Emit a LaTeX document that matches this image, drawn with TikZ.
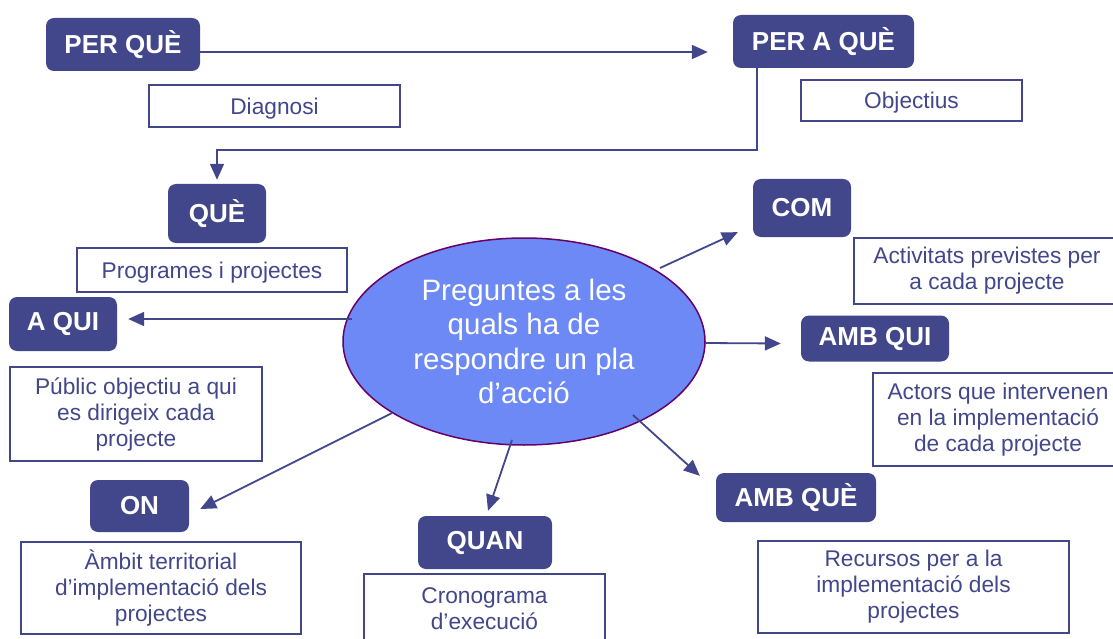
\documentclass[tikz,border=0pt]{standalone}
\usepackage{fontspec}
\setmainfont{Liberation Sans}
\usetikzlibrary{arrows.meta,shapes.geometric,calc}
\definecolor{qblue}{RGB}{65,71,138}
\definecolor{askfill}{RGB}{108,137,245}
\definecolor{askline}{RGB}{102,0,102}
\tikzstyle{question} = [rounded corners=8pt,fill=qblue,text=white,inner sep=0pt,font=\fontsize{26}{30}\selectfont\bfseries]
\tikzstyle{answer} = [draw=qblue,line width=1.6pt,text=qblue,inner sep=0pt,align=center,font=\fontsize{22.7}{26}\selectfont]
\tikzstyle{edge} = [draw=qblue,line width=1.8pt,-{Triangle[length=16pt,width=14pt]}]

\begin{document}
\begin{tikzpicture}[x=1pt,y=-1pt]
				\useasboundingbox (0,0) rectangle (1113,639);
				\node[ellipse,draw=askline,line width=1.5pt,fill=askfill,text=white,align=center,minimum width=362pt,minimum height=207pt,inner sep=0pt,font=\fontsize{29.5}{34.5}\selectfont] (ask) at (524, 341.5) {Preguntes a les\\quals ha de\\respondre un pla\\d’acció};

				\node[question,minimum width=154pt,minimum height=53pt] (perque) at (123, 44.5) {PER QUÈ};
				\node[question,minimum width=181pt,minimum height=53pt] (peraque) at (823.5, 41.5) {PER A QUÈ};
				\node[question,minimum width=98pt,minimum height=59pt] (que) at (217, 213.5) {QUÈ};
				\node[question,minimum width=98pt,minimum height=58pt] (com) at (802, 208) {COM};
				\node[question,minimum width=108pt,minimum height=54pt] (aqui) at (63, 324) {A QUI};
				\node[question,minimum width=148pt,minimum height=46pt] (ambqui) at (875, 338.5) {AMB QUI};
				\node[question,minimum width=99pt,minimum height=52pt] (on) at (139.5, 506) {ON};
				\node[question,minimum width=134pt,minimum height=53pt] (quan) at (485, 542.5) {QUAN};
				\node[question,minimum width=160pt,minimum height=49pt] (ambque) at (796, 497.5) {AMB QUÈ};

				\node[answer,text depth=0pt,minimum width=251pt,minimum height=42pt] (diag) at (274.5, 106) {Diagnosi};
				\node[answer,text depth=0pt,minimum width=221pt,minimum height=41pt] (obj) at (911.5, 100.5) {Objectius};
				\node[answer,text depth=0pt,minimum width=270pt,minimum height=44pt] (prog) at (212, 270) {Programes i projectes};
				\node[answer,minimum width=266pt,minimum height=66pt] (activ) at (987, 271) {Activitats previstes per\\a cada projecte};
				\node[answer,minimum width=252pt,minimum height=94pt] (publ) at (136, 414) {Públic objectiu a qui\\es dirigeix cada\\projecte};
				\node[answer,minimum width=250pt,minimum height=93pt] (actors) at (998, 419.5) {Actors que intervenen\\en la implementació\\de cada projecte};
				\node[answer,minimum width=280pt,minimum height=92pt] (ambit) at (161, 588) {Àmbit territorial\\d’implementació dels\\projectes};
				\node[answer,minimum width=241pt,minimum height=69pt] (crono) at (484.5, 608.5) {Cronograma\\d’execució};
				\node[answer,minimum width=311pt,minimum height=92pt] (recur) at (913.5, 587) {Recursos per a la\\implementació dels\\projectes};

				\path[edge,shorten >=25pt] ([yshift=-7.5pt]perque.east) -- ([yshift=-7.5pt]perque.east -| peraque.west);
				\path[edge] ([xshift=-66.5pt]peraque.south) -- ++(0,82) -| ([yshift=4pt]que.north);

				\foreach \dx/\dy/\dest/\tx/\ty in {136/-73.5/com.south west/-15/-5, 181/1.5/ambqui.west/-20/5,
					109/73.5/ambque.north west/-16/3, -12/98.5/quan.north/3/-5,
					-132/71.5/on.east/11/3, -172/-22.5/aqui.east/11/-5}
				\path[edge] ($(ask.center)+(\dx,\dy)$) -- ($(\dest)+(\tx,\ty)$);
			\end{tikzpicture}
\end{document}
